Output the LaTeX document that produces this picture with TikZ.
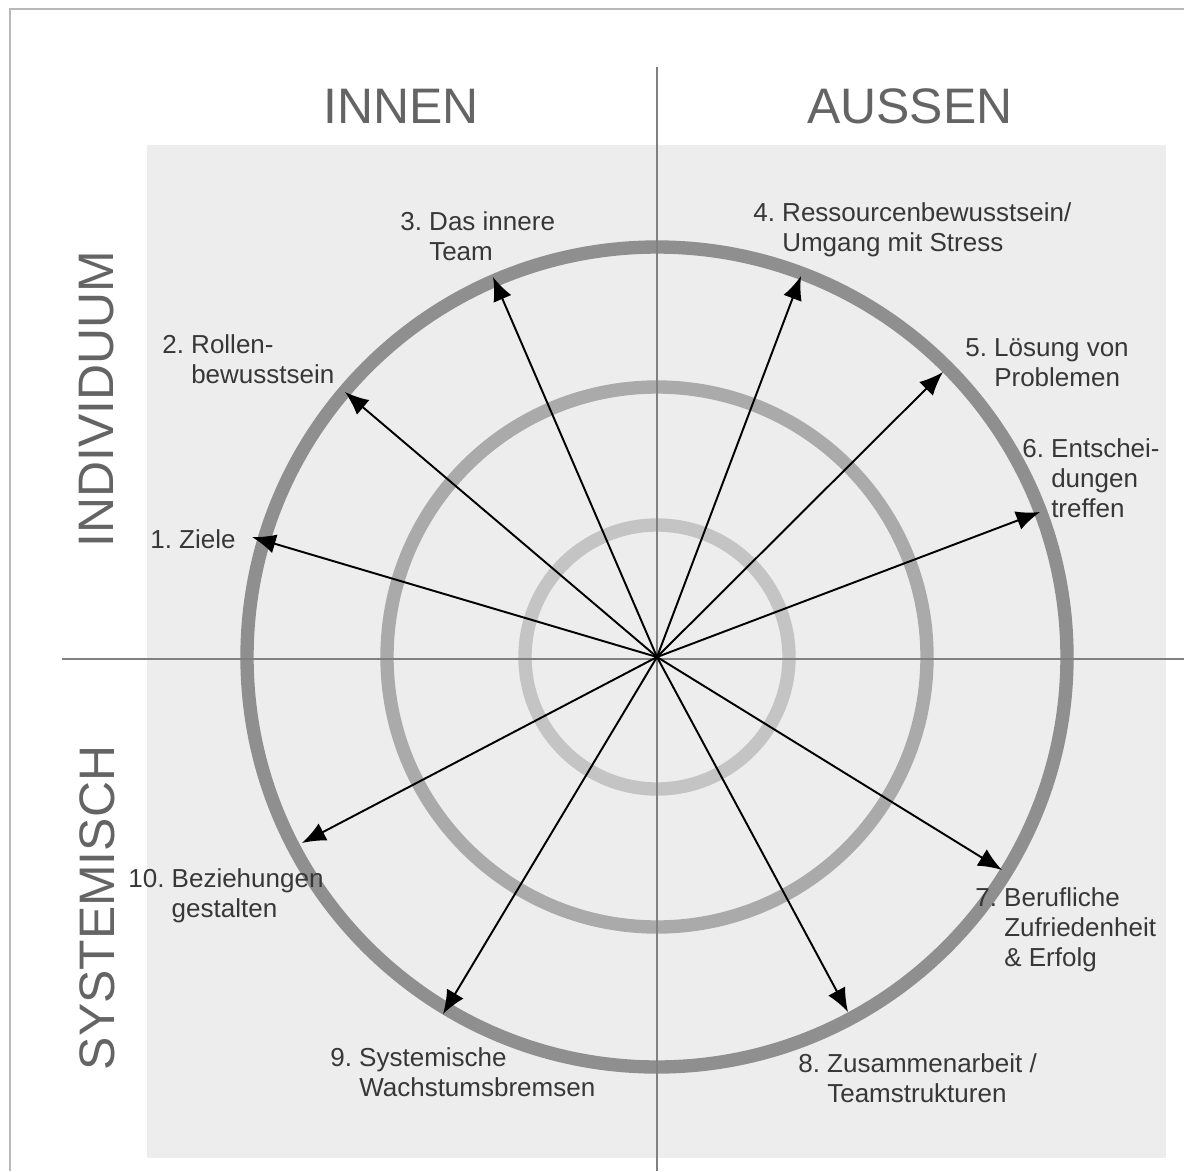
\documentclass[tikz,border=0pt]{standalone}
\usepackage{fontspec}
\setmainfont{Liberation Sans}
\usetikzlibrary{arrows.meta}

\definecolor{hgrau}{RGB}{237,237,237}
\definecolor{ringaussen}{RGB}{143,143,143}
\definecolor{ringmitte}{RGB}{170,170,170}
\definecolor{ringinnen}{RGB}{196,196,196}
\definecolor{achsgrau}{RGB}{128,128,128}
\definecolor{titelgrau}{RGB}{100,100,100}
\definecolor{textgrau}{RGB}{55,55,55}
\definecolor{rahmengrau}{RGB}{185,185,185}

% Nummer mit haengendem Einzug
\newcommand{\nr}[2]{#1~\begin{tabular}[t]{@{}l@{}}#2\end{tabular}}

\begin{document}
\begin{tikzpicture}[x=0.02cm, y=-0.02cm,
    ring/.style={line width=7.6pt},
    achse/.style={color=achsgrau, line width=0.9pt},
    pfeil/.style={-{Latex[length=13.5pt,width=11pt]}, line width=1.1pt},
    titel/.style={color=titelgrau, inner sep=0pt, font=\fontsize{28.4}{34}\selectfont},
    feld/.style={color=textgrau, inner sep=0pt, anchor=base west, font=\fontsize{14.8}{17.3}\selectfont}]
    \useasboundingbox (0,0) rectangle (1184,1171);
    \draw[rahmengrau, line width=1.2pt] (10,1171) -- (10,9) -- (1184,9) ;
    \fill[hgrau] (147,145) rectangle (1166,1158) ;

    \coordinate (M) at (657,657) ;
    \draw[ring, ringinnen] (M) circle (132) ;
    \draw[ring, ringmitte] (M) circle (270) ;
    \draw[ring, ringaussen] (M) circle (410) ;

    \draw[achse] (657,67) -- (657,1171) ;
    \draw[achse] (62,659) -- (1184,659) ;

    \node[titel] (innen) at (401,106) {INNEN} ;
    \node[titel] (aussen) at (910,106) {AUSSEN} ;
    \node[titel, rotate=90] (indiv) at (97,399) {INDIVIDUUM} ;
    \node[titel, rotate=90] (system) at (97,908) {SYSTEMISCH} ;

    % Pfeilspitzen auf dem aeusseren Ring
    \coordinate (z1) at (252,537) ;
    \coordinate (z2) at (345,392) ;
    \coordinate (z3) at (493,277) ;
    \coordinate (z4) at (801,276) ;
    \coordinate (z5) at (943,372) ;
    \coordinate (z6) at (1040,512) ;
    \coordinate (z7) at (1002,870) ;
    \coordinate (z8) at (848,1012) ;
    \coordinate (z9) at (443,1014) ;
    \coordinate (z10) at (302,843) ;
    \foreach \i in {1,...,10}
        \draw[pfeil] (M) -- (z\i) ;

    \node[feld] (f1) at (150,548) {\nr{1.}{Ziele}} ;
    \node[feld] (f2) at (162,353) {\nr{2.}{Rollen-\\bewusstsein}} ;
    \node[feld] (f3) at (400,230) {\nr{3.}{Das innere\\Team}} ;
    \node[feld] (f4) at (753,221) {\nr{4.}{Ressourcenbewusstsein/\\Umgang mit Stress}} ;
    \node[feld] (f5) at (965,356) {\nr{5.}{Lösung von\\Problemen}} ;
    \node[feld] (f6) at (1022,457) {\nr{6.}{Entschei-\\dungen\\treffen}} ;
    \node[feld] (f7) at (975,906) {\nr{7.}{Berufliche\\Zufriedenheit\\\& Erfolg}} ;
    \node[feld] (f8) at (798,1072) {\nr{8.}{Zusammenarbeit /\\Teamstrukturen}} ;
    \node[feld] (f9) at (330,1066) {\nr{9.}{Systemische\\Wachstumsbremsen}} ;
    \node[feld] (f10) at (128,887) {\nr{10.}{Beziehungen\\gestalten}} ;
\end{tikzpicture}
\end{document}
